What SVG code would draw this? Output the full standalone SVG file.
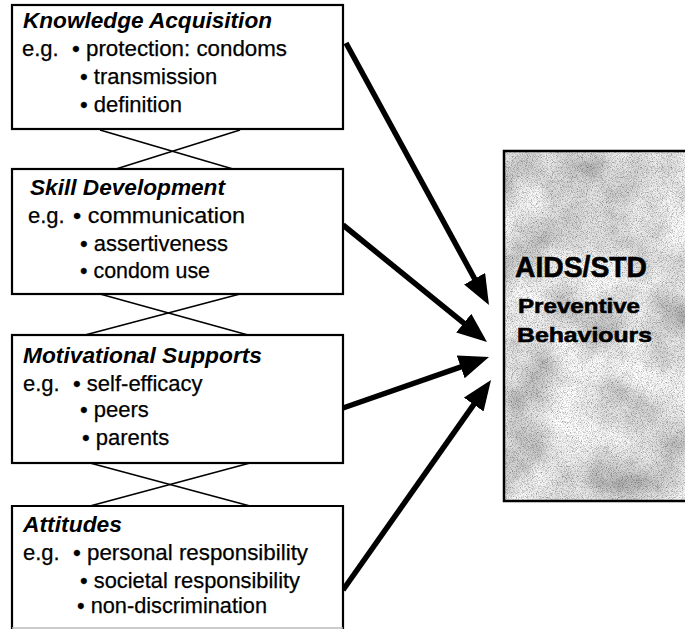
<svg xmlns="http://www.w3.org/2000/svg" width="685" height="630" viewBox="0 0 685 630">
<style>
.box{fill:#fff;stroke:#000;stroke-width:2.2}
.title{font-family:"Liberation Sans",Arial,sans-serif;font-weight:bold;font-style:italic;font-size:22px;fill:#000}
.body{font-family:"Liberation Sans",Arial,sans-serif;font-size:22px;fill:#000;stroke:#000;stroke-width:0.25}
.big{font-family:"Liberation Sans",Arial,sans-serif;font-weight:bold;fill:#000;stroke:#000;stroke-width:0.6}
.cross{stroke:#000;stroke-width:1.6;fill:none}
.arrow{stroke:#000;stroke-width:5.5;fill:none;marker-end:url(#head)}
</style>
<defs>
<marker id="head" viewBox="0 0 30 24" refX="14" refY="12" markerWidth="30" markerHeight="24" markerUnits="userSpaceOnUse" orient="auto">
<path d="M0,0 L30,12 L0,24 z" fill="#000"/>
</marker>
<filter id="tex" x="0" y="0" width="1" height="1" filterUnits="objectBoundingBox">
<feTurbulence type="fractalNoise" baseFrequency="0.02" numOctaves="3" seed="7" result="coarse"/>
<feColorMatrix in="coarse" type="matrix" values="0.9 0 0 0 0.33  0.9 0 0 0 0.33  0.9 0 0 0 0.33  0 0 0 0 1" result="c"/>
<feTurbulence type="fractalNoise" baseFrequency="1.2" numOctaves="1" seed="2" result="fine"/>
<feColorMatrix in="fine" type="matrix" values="1.8 0 0 0 -0.02  1.8 0 0 0 -0.02  1.8 0 0 0 -0.02  0 0 0 0 1" result="f"/>
<feBlend in="c" in2="f" mode="multiply"/>
</filter>
</defs>

<g id="connectors">
<line class="cross" x1="100" y1="130" x2="233" y2="169"/>
<line class="cross" x1="240" y1="130" x2="116" y2="169"/>
<line class="cross" x1="100" y1="294" x2="248" y2="335"/>
<line class="cross" x1="240" y1="294" x2="85" y2="335"/>
<line class="cross" x1="90" y1="463" x2="250" y2="506"/>
<line class="cross" x1="250" y1="463" x2="90" y2="506"/>
<path class="arrow" d="M346,43 L481.3,291"/>
<path class="arrow" d="M343,225 L474.6,331.9"/>
<path class="arrow" d="M343,408 L473.9,362.3"/>
<path class="arrow" d="M343,590 L481.8,393.1"/>
</g>

<g id="knowledge">
<rect class="box" x="12" y="5" width="331" height="124"/>
<text class="title" x="23" y="28" textLength="249" lengthAdjust="spacingAndGlyphs">Knowledge Acquisition</text>
<text class="body" x="22" y="56">e.g.</text>
<text class="body" x="72" y="56" textLength="215" lengthAdjust="spacingAndGlyphs">• protection: condoms</text>
<text class="body" x="80" y="84">• transmission</text>
<text class="body" x="80" y="112">• definition</text>
</g>

<g id="skill">
<rect class="box" x="12" y="169" width="331" height="125"/>
<text class="title" x="30" y="195" textLength="195" lengthAdjust="spacingAndGlyphs">Skill Development</text>
<text class="body" x="28" y="223">e.g.</text>
<text class="body" x="73" y="223" textLength="172" lengthAdjust="spacingAndGlyphs">• communication</text>
<text class="body" x="80" y="251" textLength="148" lengthAdjust="spacingAndGlyphs">• assertiveness</text>
<text class="body" x="80" y="278" textLength="130" lengthAdjust="spacingAndGlyphs">• condom use</text>
</g>

<g id="motivational">
<rect class="box" x="12" y="335" width="331" height="128"/>
<text class="title" x="23" y="363" textLength="239" lengthAdjust="spacingAndGlyphs">Motivational Supports</text>
<text class="body" x="23" y="391">e.g.</text>
<text class="body" x="73" y="391">• self-efficacy</text>
<text class="body" x="80" y="417">• peers</text>
<text class="body" x="82" y="445">• parents</text>
</g>

<g id="attitudes">
<path d="M12,629 L12,506 L343,506 L343,629" fill="#fff" stroke="#000" stroke-width="2.2"/>
<line x1="12" y1="628" x2="343" y2="628" stroke="#bbb" stroke-width="1.5"/>
<text class="title" x="23" y="532" textLength="99" lengthAdjust="spacingAndGlyphs">Attitudes</text>
<text class="body" x="23" y="560">e.g.</text>
<text class="body" x="73" y="560" textLength="235" lengthAdjust="spacingAndGlyphs">• personal responsibility</text>
<text class="body" x="80" y="588" textLength="220" lengthAdjust="spacingAndGlyphs">• societal responsibility</text>
<text class="body" x="77" y="613" textLength="190" lengthAdjust="spacingAndGlyphs">• non-discrimination</text>
</g>

<g id="outcome">
<rect x="504" y="151" width="190" height="350" fill="#bbb" filter="url(#tex)"/>
<rect x="504" y="151" width="190" height="350" fill="none" stroke="#000" stroke-width="2.5"/>
<text class="big" x="515" y="277" font-size="29" textLength="132" lengthAdjust="spacingAndGlyphs">AIDS/STD</text>
<text class="big" x="518" y="313" font-size="21" textLength="122" lengthAdjust="spacingAndGlyphs">Preventive</text>
<text class="big" x="517" y="342" font-size="21" textLength="135" lengthAdjust="spacingAndGlyphs">Behaviours</text>
</g>
</svg>
